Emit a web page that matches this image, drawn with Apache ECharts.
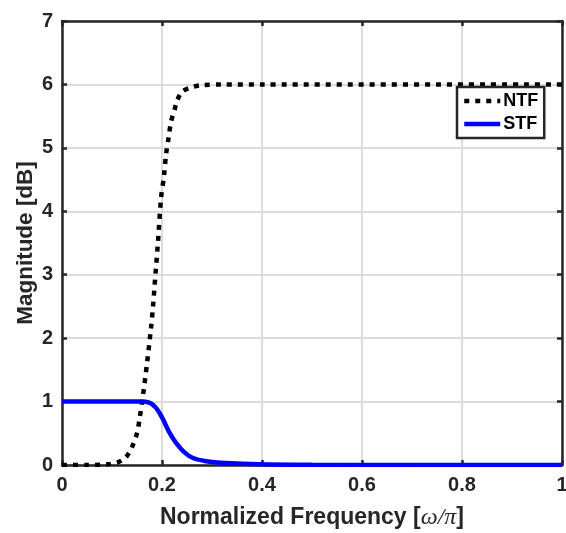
<!DOCTYPE html>
<html>
<head>
<meta charset="utf-8">
<script src="https://cdn.jsdelivr.net/npm/echarts@6/dist/echarts.min.js"></script>
<style>html,body{margin:0;padding:0;background:#fff;}#c{width:566px;height:533px;}</style>
</head>
<body>
<div id="c"></div>
<script>
const seriesNames = ['NTF', 'STF'];
const xTicks = [0, 0.2, 0.4, 0.6, 0.8, 1];
const yTicks = [0, 1, 2, 3, 4, 5, 6, 7];

const ntfFreq = [0, 0.05, 0.09, 0.112, 0.125, 0.132, 0.14, 0.15, 0.155, 0.162, 0.170, 0.178, 0.182, 0.187, 0.192, 0.198, 0.204, 0.208, 0.213, 0.218, 0.225, 0.231, 0.241, 0.261, 0.281, 0.32, 0.4, 1];
const ntfMag  = [0, 0, 0.01, 0.044, 0.1, 0.165, 0.28, 0.5, 0.72, 1.1, 1.6, 2.16, 2.5, 3.01, 3.52, 4.2, 4.56, 4.89, 5.15, 5.41, 5.6, 5.76, 5.89, 5.96, 5.99, 6.0, 6.0, 6.0];

const stfFreq = [0, 0.16, 0.172, 0.18, 0.188, 0.195, 0.202, 0.215, 0.228, 0.245, 0.262, 0.288, 0.328, 0.394, 0.5, 1];
const stfMag  = [1, 1, 0.99, 0.96, 0.9, 0.82, 0.72, 0.51, 0.35, 0.2, 0.11, 0.06, 0.03, 0.01, 0.003, 0];

const ink = '#262626';
const font = 'Liberation Sans, Arial, Helvetica, sans-serif';
const ntfDash = [5, 6];

function pairs(xs, ys) { return xs.map((x, i) => [x, ys[i]]); }

const chart = echarts.init(document.getElementById('c'), null, {renderer: 'canvas'});
const lineSt = {show: true, onZero: false, lineStyle: {color: ink, width: 2.5}};
const tickSt = {show: true, inside: true, length: 5, lineStyle: {color: ink, width: 2.5}};
const baseX = {
  type: 'value', min: xTicks[0], max: xTicks[xTicks.length - 1], interval: 0.2,
  axisLine: lineSt, axisTick: tickSt
};
const baseY = {
  type: 'value', min: yTicks[0], max: yTicks[yTicks.length - 1], interval: 1,
  axisLine: lineSt, axisTick: tickSt
};
chart.setOption({
  animation: false,
  backgroundColor: '#fff',
  grid: {left: 62, top: 21, right: 4, bottom: 68, containLabel: false, outerBoundsMode: 'none'},
  legend: {
    data: [
      {name: seriesNames[0], lineStyle: {color: '#000', width: 4.5, type: ntfDash, cap: 'butt'}},
      {name: seriesNames[1], lineStyle: {color: '#0000ff', width: 4.5}}
    ],
    left: 457, top: 87,
    orient: 'vertical',
    padding: [5, 6, 5, 5],
    itemGap: 5,
    itemWidth: 36, itemHeight: 16,
    itemStyle: {opacity: 0},
    backgroundColor: '#fff',
    borderColor: ink, borderWidth: 2.5,
    textStyle: {fontFamily: font, fontWeight: 'bold', fontSize: 18, color: '#000', padding: [0, 0, 0, -2]}
  },
  xAxis: [
    Object.assign({}, baseX, {
      position: 'bottom',
      name: 'Normalized Frequency [{i|ω/π}]',
      nameLocation: 'middle', nameGap: 41, nameMoveOverlap: false,
      nameTextStyle: {fontFamily: font, fontWeight: 'bold', fontSize: 23, color: ink,
        rich: {i: {fontFamily: 'Liberation Serif, DejaVu Serif, serif', fontStyle: 'italic', fontWeight: 'normal', fontSize: 24, color: ink}}},
      axisLabel: {fontFamily: font, fontWeight: 'bold', fontSize: 20, color: ink, margin: 10,
        formatter: v => String(+v.toFixed(1))},
      splitLine: {show: true, lineStyle: {color: '#dcdcdc', width: 2}}
    }),
    Object.assign({}, baseX, {
      position: 'top',
      axisLabel: {show: false},
      splitLine: {show: false}
    })
  ],
  yAxis: [
    Object.assign({}, baseY, {
      position: 'left',
      name: 'Magnitude [dB]',
      nameLocation: 'middle', nameGap: 25, nameMoveOverlap: false,
      nameTextStyle: {fontFamily: font, fontWeight: 'bold', fontSize: 22.5, color: ink},
      axisLabel: {fontFamily: font, fontWeight: 'bold', fontSize: 20, color: ink, margin: 9},
      splitLine: {show: true, lineStyle: {color: '#dcdcdc', width: 2}}
    }),
    Object.assign({}, baseY, {
      position: 'right',
      axisLabel: {show: false},
      splitLine: {show: false}
    })
  ],
  series: [
    {
      name: seriesNames[0], type: 'line', xAxisIndex: 0, yAxisIndex: 0,
      data: pairs(ntfFreq, ntfMag), smooth: 0.3, showSymbol: false, symbol: 'none',
      clip: true,
      lineStyle: {color: '#000', width: 4.5, type: ntfDash, cap: 'butt'},
      itemStyle: {color: '#000'}, z: 3
    },
    {
      name: seriesNames[1], type: 'line', xAxisIndex: 0, yAxisIndex: 0,
      data: pairs(stfFreq, stfMag), smooth: 0.3, showSymbol: false, symbol: 'none',
      clip: true,
      lineStyle: {color: '#0000ff', width: 4.5},
      itemStyle: {color: '#0000ff'}, z: 4
    }
  ]
});
</script>
</body>
</html>
